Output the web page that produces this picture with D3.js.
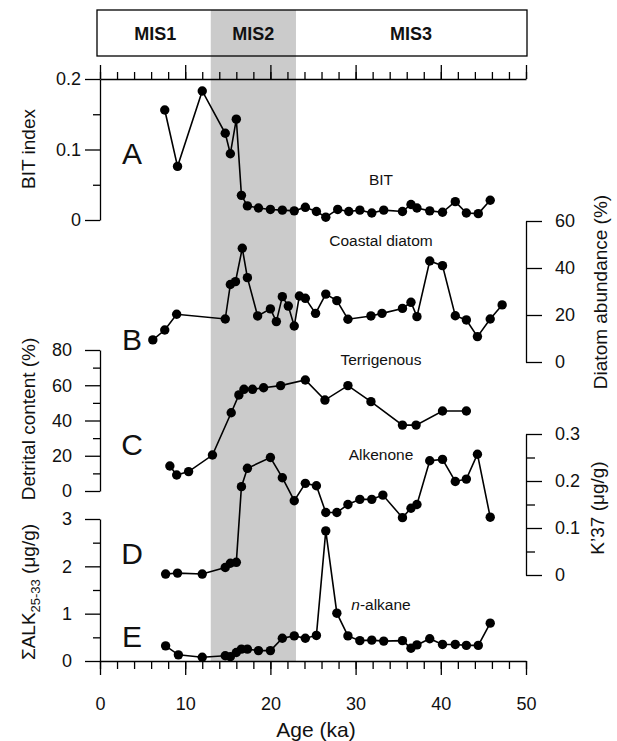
<!DOCTYPE html>
<html>
<head>
<meta charset="utf-8">
<script src="https://cdn.jsdelivr.net/npm/d3@7"></script>
<style>
  body { margin: 0; background: #fff; }
  text { font-family: "Liberation Sans", Arial, sans-serif; fill: #111; }
</style>
</head>
<body>
<div id="chart"></div>
<script>
const width = 617;
const height = 741;

// A: BIT index
const ageBIT = [7.6, 9.1, 12.0, 14.7, 15.3, 16.0, 16.6, 17.3, 18.6, 20.0, 21.4, 22.8, 24.1, 25.4, 26.5,
  27.9, 29.2, 30.5, 31.9, 33.3, 35.5, 36.5, 37.2, 38.7, 40.2, 41.7, 43.0, 44.4, 45.8];
const bit = [0.156, 0.076, 0.183, 0.123, 0.094, 0.143, 0.035, 0.020, 0.017, 0.015, 0.014, 0.013, 0.018, 0.012, 0.004,
  0.015, 0.012, 0.014, 0.010, 0.014, 0.012, 0.022, 0.017, 0.013, 0.011, 0.026, 0.010, 0.009, 0.028];

// B: coastal diatom (%)
const ageDiatom = [6.2, 7.6, 9.0, 14.7, 15.3, 15.9, 16.7, 17.3, 18.5, 20.0, 20.7, 21.4, 22.1, 22.8, 23.4, 24.1,
  25.3, 26.5, 27.8, 29.1, 31.8, 33.1, 35.5, 36.5, 37.2, 38.7, 40.2, 41.7, 43.0, 44.3, 45.8, 47.2];
const diatom = [9.4, 13.6, 20.3, 18.3, 33.0, 34.2, 48.4, 35.9, 19.6, 22.6, 17.2, 27.8, 23.8, 15.3, 28.1, 27.1,
  20.7, 28.9, 26.1, 18.2, 19.6, 20.7, 22.8, 25.4, 19.3, 43.0, 41.0, 19.7, 17.9, 10.8, 18.3, 24.3];

// C: terrigenous detrital content (%)
const ageDetrital = [8.2, 9.0, 10.4, 13.2, 15.4, 16.3, 16.9, 17.9, 19.2, 21.2, 24.1, 26.4, 29.1, 31.8, 35.5, 37.1, 40.2, 43.0];
const detrital = [14.2, 9.1, 11.0, 20.4, 44.4, 54.5, 57.7, 57.7, 58.6, 59.8, 63.0, 51.6, 59.8, 50.7, 37.4, 37.4, 45.4, 45.4];

// D: alkenone K'37 (ug/g)
const ageK37 = [7.7, 9.1, 12.0, 14.7, 15.3, 16.0, 16.6, 17.3, 20.0, 21.4, 22.8, 24.1, 25.4, 26.5,
  27.8, 29.1, 30.5, 31.9, 33.2, 35.5, 36.5, 37.2, 38.7, 40.2, 41.7, 43.0, 44.3, 45.8];
const k37 = [0.002, 0.004, 0.002, 0.016, 0.025, 0.027, 0.188, 0.227, 0.250, 0.207, 0.158, 0.195, 0.190, 0.133,
  0.133, 0.150, 0.161, 0.161, 0.170, 0.122, 0.142, 0.150, 0.243, 0.246, 0.199, 0.204, 0.257, 0.123];

// E: n-alkane sum ALK25-33 (ug/g)
const ageAlk = [7.7, 9.2, 12.0, 14.7, 15.3, 16.0, 16.6, 17.3, 18.6, 20.0, 21.4, 22.8, 24.1, 25.4, 26.5,
  27.8, 29.1, 30.5, 31.9, 33.3, 35.5, 36.5, 37.2, 38.7, 40.2, 41.7, 43.0, 44.4, 45.8];
const alk = [0.32, 0.13, 0.08, 0.11, 0.09, 0.18, 0.25, 0.25, 0.22, 0.22, 0.48, 0.53, 0.48, 0.54, 2.75,
  1.01, 0.53, 0.43, 0.44, 0.42, 0.43, 0.27, 0.34, 0.47, 0.35, 0.35, 0.33, 0.33, 0.80];

// marine isotope stages
const mis = [{ name: 'MIS1', from: 0, to: 13 }, { name: 'MIS2', from: 13, to: 23 }, { name: 'MIS3', from: 23, to: 50 }];

const svg = d3.select('#chart')
  .append('svg')
  .attr('width', width)
  .attr('height', height);

const x = d3.scaleLinear().domain([0, 50]).range([100, 526]);
const yBIT = d3.scaleLinear().domain([0, 0.2]).range([220, 79]);
const yDiatom = d3.scaleLinear().domain([0, 60]).range([362, 221]);
const yDetrital = d3.scaleLinear().domain([0, 80]).range([491, 350]);
const yK37 = d3.scaleLinear().domain([0, 0.3]).range([575, 434]);
const yAlk = d3.scaleLinear().domain([0, 3]).range([661, 519]);

// MIS2 shading
svg.append('rect')
  .attr('x', x(13)).attr('y', 10)
  .attr('width', x(23) - x(13)).attr('height', 661 - 10)
  .attr('fill', '#cbcbcb');

// MIS box
svg.append('rect')
  .attr('x', x(0) - 3).attr('y', 10)
  .attr('width', x(50) - x(0) + 4).attr('height', 46)
  .attr('fill', 'none').attr('stroke', '#000').attr('stroke-width', 1.3);

svg.selectAll('.mis').data(mis)
  .enter().append('text')
  .attr('class', 'mis')
  .attr('x', (d) => (x(d.from) + x(d.to)) / 2)
  .attr('y', 40)
  .attr('text-anchor', 'middle')
  .attr('font-size', 18)
  .attr('font-weight', 'bold')
  .text((d) => d.name);

function addAxis(axisFn, scale, major, minor, size, minorSize, pad, transform) {
  svg.append('g')
    .attr('transform', transform)
    .call(axisFn(scale).tickValues(minor).tickSize(minorSize).tickSizeOuter(0).tickFormat(''))
    .call(g => g.select('.domain').remove());
  const g = svg.append('g')
    .attr('transform', transform)
    .call(axisFn(scale).tickValues(major).tickSize(size).tickSizeOuter(0).tickPadding(pad)
      .tickFormat(d3.format('')));
  g.selectAll('path, line').attr('stroke', '#000').attr('stroke-width', 1.3);
  g.selectAll('text').attr('font-size', 18).attr('font-family', '"Liberation Sans", Arial, sans-serif').attr('fill', '#111');
  svg.selectAll('g line').attr('stroke', '#000').attr('stroke-width', 1.3);
  return g;
}

// x axes
const xMinor = d3.range(0, 51, 2);
addAxis(d3.axisTop, x, [0, 10, 20, 30, 40, 50], xMinor, 14, 7, 3, 'translate(0,79)')
  .selectAll('text').remove();
addAxis(d3.axisBottom, x, [0, 10, 20, 30, 40, 50], xMinor, 14, 8, 22, 'translate(0,661)');

// y axes
addAxis(d3.axisLeft, yBIT, [0, 0.1, 0.2], [0.05, 0.15], 15, 7, 4, 'translate(100,0)');
addAxis(d3.axisLeft, yDetrital, [0, 20, 40, 60, 80], [10, 30, 50, 70], 15, 7, 13, 'translate(100,0)');
addAxis(d3.axisLeft, yAlk, [0, 1, 2, 3], [0.5, 1.5, 2.5], 15, 7, 13, 'translate(100,0)');
addAxis(d3.axisRight, yDiatom, [0, 20, 40, 60], [], 16, 9, 13, 'translate(526,0)');
addAxis(d3.axisRight, yK37, [0, 0.1, 0.2, 0.3], [0.05, 0.15, 0.25], 16, 9, 13, 'translate(526,0)');

// series
function series(ages, vals, y) {
  const pts = d3.zip(ages, vals);
  svg.append('path')
    .datum(pts)
    .attr('d', d3.line().x((d) => x(d[0])).y((d) => y(d[1])))
    .attr('fill', 'none')
    .attr('stroke', '#000')
    .attr('stroke-width', 1.6);
  svg.append('g').selectAll('circle').data(pts)
    .enter().append('circle')
    .attr('cx', (d) => x(d[0]))
    .attr('cy', (d) => y(d[1]))
    .attr('r', 4.7)
    .attr('fill', '#000');
}

series(ageBIT, bit, yBIT);
series(ageDiatom, diatom, yDiatom);
series(ageDetrital, detrital, yDetrital);
series(ageK37, k37, yK37);
series(ageAlk, alk, yAlk);

// panel letters
const letters = [['A', 164], ['B', 350], ['C', 455], ['D', 564], ['E', 647]];
svg.selectAll('.letter').data(letters)
  .enter().append('text')
  .attr('class', 'letter')
  .attr('x', 132).attr('y', (d) => d[1])
  .attr('text-anchor', 'middle')
  .attr('font-size', 30)
  .text((d) => d[0]);

// series labels
const names = [['BIT', 185], ['Coastal diatom', 246], ['Terrigenous', 365], ['Alkenone', 460]];
svg.selectAll('.name').data(names)
  .enter().append('text')
  .attr('class', 'name')
  .attr('x', 381).attr('y', (d) => d[1])
  .attr('text-anchor', 'middle')
  .attr('font-size', 15.5)
  .text((d) => d[0]);

const nalk = svg.append('text')
  .attr('x', 381).attr('y', 610)
  .attr('text-anchor', 'middle')
  .attr('font-size', 15.5);
nalk.append('tspan').attr('font-style', 'italic').text('n');
nalk.append('tspan').text('-alkane');

// axis titles
function yTitle(tx, ty) {
  return svg.append('text')
    .attr('transform', `translate(${tx},${ty}) rotate(-90)`)
    .attr('text-anchor', 'middle')
    .attr('font-size', 19);
}

yTitle(35, 149).text('BIT index');
yTitle(35, 419).text('Detrital content (%)');
const sig = yTitle(35, 592);
sig.append('tspan').text('ΣALK');
sig.append('tspan').attr('font-size', 13).attr('dy', 5).text('25-33');
sig.append('tspan').attr('dy', -5).text(' (μg/g)');
yTitle(607, 292).text('Diatom abundance (%)');
yTitle(604, 508).text('K’37 (μg/g)');

svg.append('text')
  .attr('x', 316).attr('y', 737)
  .attr('text-anchor', 'middle')
  .attr('font-size', 21)
  .text('Age (ka)');
</script>
</body>
</html>
